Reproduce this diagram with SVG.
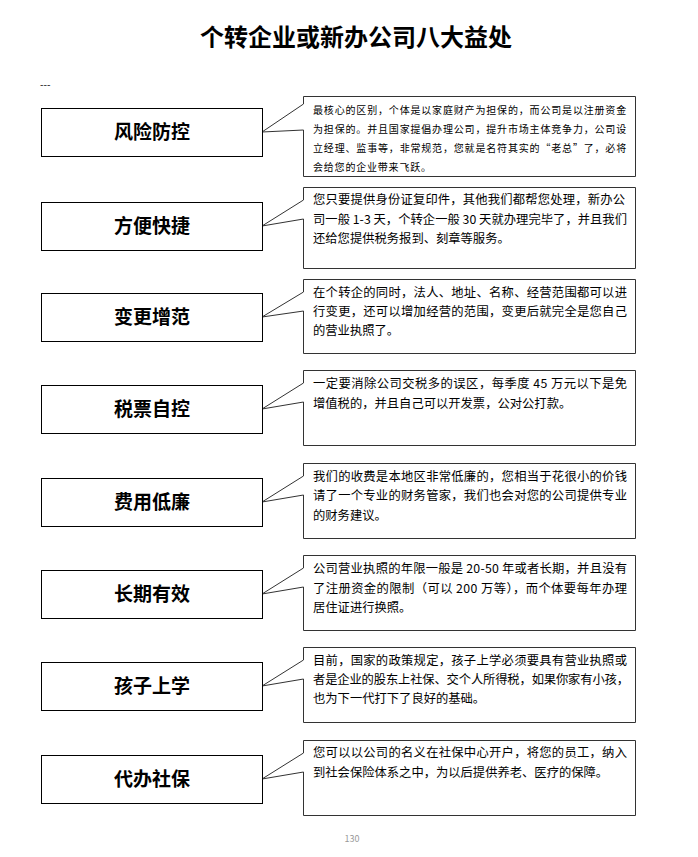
<svg xmlns="http://www.w3.org/2000/svg" width="698" height="857" viewBox="0 0 698 857">
<style>
text{font-family:"Noto Sans CJK SC","Liberation Sans",sans-serif;fill:#000}
.title{font-size:24px;font-weight:bold;text-anchor:middle}
.box{fill:#fff;stroke:#000;stroke-width:1}
.lbl{font-size:19px;font-weight:bold;text-anchor:middle}
.call{fill:#fff;stroke:#333;stroke-width:1}
.t{font-size:12.3px}
.s{font-size:10px;letter-spacing:0.8px}
</style>
<rect width="698" height="857" fill="#fff"/>
<text class="title" x="356" y="46">个转企业或新办公司八大益处</text>
<text x="40" y="88" style="font-size:10px">---</text>

<g id="connectors">
<path class="call" d="M303.5,96.5 H635.5 V176.5 H303.5 V130 L262,132 L303.5,104 Z"/>
<path class="call" d="M303.5,187.5 H635.5 V268.5 H303.5 V219 L262,226 L303.5,200 Z"/>
<path class="call" d="M303.5,279.5 H635.5 V353.5 H303.5 V311 L262,317 L303.5,292 Z"/>
<path class="call" d="M303.5,370.5 H635.5 V445.5 H303.5 V402 L262,409 L303.5,383 Z"/>
<path class="call" d="M303.5,463.5 H635.5 V538.5 H303.5 V495 L262,502 L303.5,476 Z"/>
<path class="call" d="M303.5,555.5 H635.5 V630.5 H303.5 V587 L262,594 L303.5,568 Z"/>
<path class="call" d="M303.5,647.5 H635.5 V722.5 H303.5 V679 L262,686 L303.5,660 Z"/>
<path class="call" d="M303.5,740.5 H635.5 V815.5 H303.5 V772 L262,779 L303.5,753 Z"/>
</g>

<g id="n1">
<rect class="box" x="41.5" y="108.5" width="221" height="48"/>
<text class="lbl" x="152" y="139">风险防控</text>
<text class="s" x="313" y="114" textLength="314" lengthAdjust="spacing">最核心的区别，个体是以家庭财产为担保的，而公司是以注册资金</text>
<text class="s" x="313" y="133" textLength="314" lengthAdjust="spacing">为担保的。并且国家提倡办理公司，提升市场主体竞争力，公司设</text>
<text class="s" x="313" y="152" textLength="314" lengthAdjust="spacing">立经理、监事等，非常规范，您就是名符其实的“老总”了，必将</text>
<text class="s" x="313" y="171">会给您的企业带来飞跃。</text>
</g>

<g id="n2">
<rect class="box" x="41.5" y="202.5" width="221" height="48"/>
<text class="lbl" x="152" y="233">方便快捷</text>
<text class="t" x="313" y="204" textLength="312" lengthAdjust="spacing">您只要提供身份证复印件，其他我们都帮您处理，新办公</text>
<text class="t" x="313" y="224" textLength="314" lengthAdjust="spacing">司一般 1-3 天，个转企一般 30 天就办理完毕了，并且我们</text>
<text class="t" x="313" y="243">还给您提供税务报到、刻章等服务。</text>
</g>

<g id="n3">
<rect class="box" x="41.5" y="293.5" width="221" height="48"/>
<text class="lbl" x="152" y="324">变更增范</text>
<text class="t" x="313" y="297" textLength="314" lengthAdjust="spacing">在个转企的同时，法人、地址、名称、经营范围都可以进</text>
<text class="t" x="313" y="316" textLength="314" lengthAdjust="spacing">行变更，还可以增加经营的范围，变更后就完全是您自己</text>
<text class="t" x="313" y="335">的营业执照了。</text>
</g>

<g id="n4">
<rect class="box" x="41.5" y="385.5" width="221" height="48"/>
<text class="lbl" x="152" y="416">税票自控</text>
<text class="t" x="313" y="388" textLength="314" lengthAdjust="spacing">一定要消除公司交税多的误区，每季度 45 万元以下是免</text>
<text class="t" x="313" y="408">增值税的，并且自己可以开发票，公对公打款。</text>
</g>

<g id="n5">
<rect class="box" x="41.5" y="478.5" width="221" height="48"/>
<text class="lbl" x="152" y="509">费用低廉</text>
<text class="t" x="313" y="481" textLength="314" lengthAdjust="spacing">我们的收费是本地区非常低廉的，您相当于花很小的价钱</text>
<text class="t" x="313" y="500" textLength="314" lengthAdjust="spacing">请了一个专业的财务管家，我们也会对您的公司提供专业</text>
<text class="t" x="313" y="520">的财务建议。</text>
</g>

<g id="n6">
<rect class="box" x="41.5" y="570.5" width="221" height="48"/>
<text class="lbl" x="152" y="601">长期有效</text>
<text class="t" x="313" y="573" textLength="314" lengthAdjust="spacing">公司营业执照的年限一般是 20-50 年或者长期，并且没有</text>
<text class="t" x="313" y="593" textLength="314" lengthAdjust="spacing">了注册资金的限制（可以 200 万等），而个体要每年办理</text>
<text class="t" x="313" y="612">居住证进行换照。</text>
</g>

<g id="n7">
<rect class="box" x="41.5" y="662.5" width="221" height="48"/>
<text class="lbl" x="152" y="693">孩子上学</text>
<text class="t" x="313" y="665" textLength="314" lengthAdjust="spacing">目前，国家的政策规定，孩子上学必须要具有营业执照或</text>
<text class="t" x="313" y="684" textLength="316" lengthAdjust="spacing">者是企业的股东上社保、交个人所得税，如果你家有小孩，</text>
<text class="t" x="313" y="703">也为下一代打下了良好的基础。</text>
</g>

<g id="n8">
<rect class="box" x="41.5" y="755.5" width="221" height="48"/>
<text class="lbl" x="152" y="786">代办社保</text>
<text class="t" x="313" y="757" textLength="314" lengthAdjust="spacing">您可以以公司的名义在社保中心开户，将您的员工，纳入</text>
<text class="t" x="313" y="777">到社会保险体系之中，为以后提供养老、医疗的保障。</text>
</g>

<text x="352" y="842" style="font-size:9px;fill:#999;text-anchor:middle">130</text>
</svg>
